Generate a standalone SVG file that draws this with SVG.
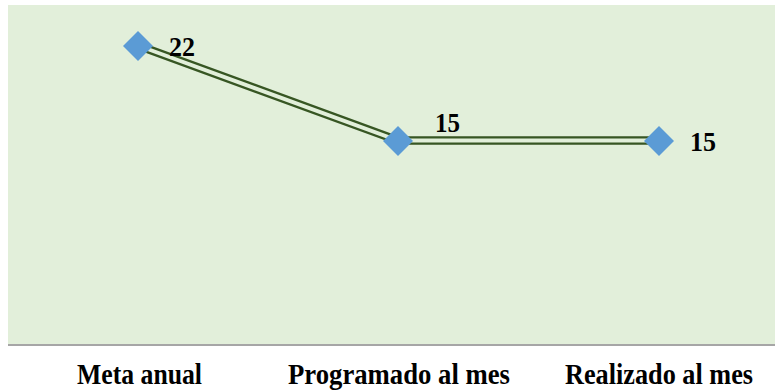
<svg xmlns="http://www.w3.org/2000/svg" width="775" height="391" viewBox="0 0 775 391">
<style>
.lbl{font-family:"Liberation Serif","Times New Roman",serif;font-weight:bold;font-size:28px;fill:#000}
.cat{font-family:"Liberation Serif","Times New Roman",serif;font-weight:bold;font-size:29px;fill:#000}
.outer{fill:none;stroke:#375623;stroke-width:8.5;stroke-linejoin:miter}
.inner{fill:none;stroke:#E2EFDA;stroke-width:3.8;stroke-linejoin:miter}
.mk{fill:#5B9BD5}
</style>
<defs>
<polygon id="dia" points="0,-15 15,0 0,15 -15,0"/>
</defs>
<rect id="plot" x="8" y="5" width="767" height="339" fill="#E2EFDA"/>
<rect x="8" y="344" width="767" height="2" fill="#A6A6A6"/>
<g id="connectors">
<polyline class="outer" points="138,45.5 398,140.5 658,140.5"/>
<polyline class="inner" points="138,45.5 398,140.5 658,140.5"/>
</g>
<g id="p1"><use href="#dia" class="mk" x="138" y="46"/><text class="lbl" x="169" y="56" textLength="26" lengthAdjust="spacingAndGlyphs">22</text></g>
<g id="p2"><use href="#dia" class="mk" x="398" y="141"/><text class="lbl" x="435" y="132" textLength="25" lengthAdjust="spacingAndGlyphs">15</text></g>
<g id="p3"><use href="#dia" class="mk" x="659" y="141"/><text class="lbl" x="690" y="151" textLength="26" lengthAdjust="spacingAndGlyphs">15</text></g>
<g id="axis">
<text class="cat" x="77" y="384" textLength="125" lengthAdjust="spacingAndGlyphs">Meta anual</text>
<text class="cat" x="288" y="384" textLength="222" lengthAdjust="spacingAndGlyphs">Programado al mes</text>
<text class="cat" x="565" y="384" textLength="188" lengthAdjust="spacingAndGlyphs">Realizado al mes</text>
</g>
</svg>
